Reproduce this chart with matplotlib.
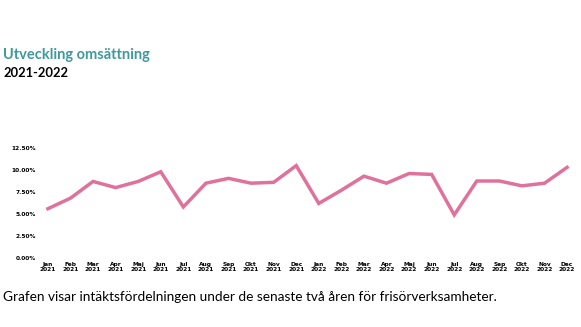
import matplotlib.pyplot as plt
from matplotlib.ticker import FuncFormatter

months = ["Jan", "Feb", "Mar", "Apr", "Maj", "Jun", "Jul", "Aug", "Sep", "Okt", "Nov", "Dec"]
years = ["2021", "2022"]
labels = [f"{m}\n{y}" for y in years for m in months]

# andel (%) per månad
values = [5.6, 6.8, 8.7, 8.0, 8.7, 9.8, 5.8, 8.5, 9.05, 8.5, 8.6, 10.5,
          6.2, 7.7, 9.3, 8.5, 9.6, 9.5, 4.9, 8.75, 8.75, 8.2, 8.5, 10.3]
yticks = [0, 2.5, 5, 7.5, 10, 12.5]

fig = plt.figure(figsize=(5.81, 3.27), dpi=100)
ax = fig.add_axes([40 / 581, 1 - 258 / 327, 535 / 581, 110 / 327])

x = list(range(len(values)))
ax.plot(x, values, color="#e0719b", linewidth=2.5, solid_joinstyle="miter", clip_on=False)

ax.set_xlim(-0.35, 23.35)
ax.set_ylim(0, 12.5)
ax.set_xticks(x)
ax.set_xticklabels(labels, fontsize=4.2, fontweight="bold", linespacing=0.95)
ax.set_yticks(yticks)
ax.yaxis.set_major_formatter(FuncFormatter(lambda v, p: f"{v:.2f}%"))
for lab in ax.get_yticklabels():
    lab.set_fontsize(4.2)
    lab.set_fontweight("bold")
ax.tick_params(length=0, pad=3)
for s in ax.spines.values():
    s.set_visible(False)

fig.text(3 / 581, 1 - 55 / 327, "Utveckling omsättning", color="#3f9a9c",
         fontsize=10.5, fontweight="bold", family="Lato", va="center")
fig.text(3 / 581, 1 - 73 / 327, "2021-2022", color="black",
         fontsize=9.3, fontweight="bold", family="Lato", va="center")
fig.text(3 / 581, 1 - 297 / 327,
         "Grafen visar intäktsfördelningen under de senaste två åren för frisörverksamheter.",
         color="black", fontsize=9.8, family="Lato", va="center")

fig.savefig("out.png", dpi=100)
